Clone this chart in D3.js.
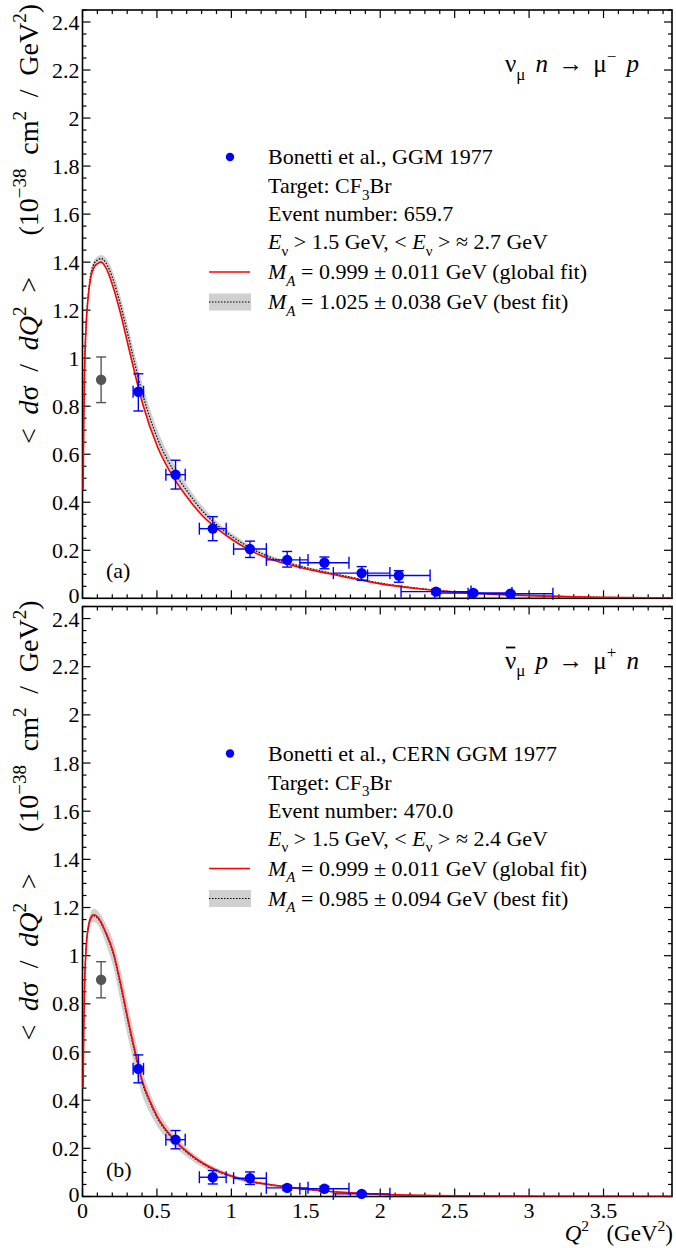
<!DOCTYPE html>
<html><head><meta charset="utf-8">
<script src="https://cdn.jsdelivr.net/npm/d3@7"></script>
<style>
body{margin:0;background:#fff}
svg{display:block}
text{fill:#000;white-space:pre}
</style>
</head><body>
<svg id="c" width="676" height="1248"></svg>
<script>
// ---------- data ----------
const binQ    = [0.125, 0.375, 0.625, 0.875, 1.125, 1.375, 1.625, 1.875, 2.125, 2.375, 2.625, 2.875];
const binQErr = [0, 0.035, 0.065, 0.09, 0.11, 0.14, 0.165, 0.19, 0.21, 0.235, 0.26, 0.285];

const nuVal   = [0.91, 0.86, 0.515, 0.29, 0.205, 0.16, 0.148, 0.105, 0.095, 0.028, 0.022, 0.019];
const nuErrLo = [0.095, 0.08, 0.06, 0.05, 0.035, 0.03, 0.025, 0.03, 0.028, 0.01, 0.008, 0.006];
const nuErrHi = [0.095, 0.075, 0.06, 0.05, 0.033, 0.035, 0.024, 0.027, 0.02, 0.01, 0.008, 0.006];

const nubarVal = [0.90, 0.53, 0.236, 0.08, 0.076, 0.036, 0.032, 0.011];
const nubarErr = [0.075, 0.058, 0.038, 0.028, 0.026, 0.01, 0.01, 0.006];

const curveQTop = [0, 0.004, 0.01, 0.02, 0.035, 0.05, 0.075, 0.1, 0.12, 0.15, 0.2, 0.25, 0.3, 0.35, 0.4, 0.5, 0.6, 0.7, 0.8, 0.9, 1.0, 1.1, 1.25, 1.375, 1.5, 1.625, 1.75, 2.0, 2.25, 2.5, 2.75, 3.0, 3.25, 3.5, 3.96];
const globalTop = [0.45, 0.72, 0.95, 1.13, 1.26, 1.33, 1.38, 1.395, 1.40, 1.38, 1.30, 1.19, 1.06, 0.93, 0.81, 0.63, 0.51, 0.42, 0.345, 0.29, 0.245, 0.207, 0.165, 0.142, 0.122, 0.106, 0.09, 0.06, 0.04, 0.026, 0.017, 0.011, 0.007, 0.004, 0.0015];
const bestTop   = [0.45, 0.72, 0.96, 1.14, 1.27, 1.345, 1.395, 1.41, 1.415, 1.40, 1.33, 1.225, 1.10, 0.97, 0.85, 0.665, 0.54, 0.445, 0.365, 0.305, 0.258, 0.218, 0.173, 0.148, 0.127, 0.11, 0.094, 0.063, 0.042, 0.027, 0.018, 0.0115, 0.0073, 0.0042, 0.0016];
const bandHiTop = [0.45, 0.72, 0.97, 1.15, 1.28, 1.36, 1.41, 1.425, 1.43, 1.42, 1.36, 1.26, 1.14, 1.01, 0.89, 0.70, 0.57, 0.47, 0.385, 0.32, 0.271, 0.229, 0.181, 0.154, 0.132, 0.114, 0.098, 0.066, 0.044, 0.028, 0.019, 0.012, 0.0076, 0.0044, 0.0017];
const bandLoTop = [0.45, 0.71, 0.95, 1.13, 1.255, 1.33, 1.38, 1.395, 1.40, 1.385, 1.305, 1.195, 1.065, 0.935, 0.815, 0.635, 0.515, 0.425, 0.348, 0.292, 0.247, 0.208, 0.166, 0.143, 0.123, 0.107, 0.091, 0.061, 0.041, 0.026, 0.017, 0.011, 0.007, 0.004, 0.0015];

const curveQBot = [0, 0.004, 0.01, 0.02, 0.035, 0.05, 0.07, 0.09, 0.12, 0.15, 0.2, 0.25, 0.3, 0.35, 0.4, 0.45, 0.5, 0.6, 0.7, 0.8, 0.9, 1.0, 1.1, 1.25, 1.375, 1.5, 1.75, 2.0, 2.25, 2.5, 3.0, 3.5, 3.96];
const globalBot = [0.45, 0.68, 0.88, 1.03, 1.12, 1.155, 1.17, 1.165, 1.14, 1.10, 1.02, 0.89, 0.74, 0.6, 0.475, 0.395, 0.33, 0.245, 0.185, 0.14, 0.108, 0.085, 0.066, 0.05, 0.039, 0.03, 0.017, 0.009, 0.005, 0.003, 0.0012, 0.0005, 0.0002];
const bestBot   = [0.45, 0.68, 0.875, 1.025, 1.115, 1.15, 1.165, 1.16, 1.135, 1.095, 1.012, 0.88, 0.73, 0.59, 0.467, 0.388, 0.324, 0.24, 0.181, 0.137, 0.105, 0.083, 0.064, 0.049, 0.038, 0.029, 0.0165, 0.0087, 0.0048, 0.0029, 0.0012, 0.0005, 0.0002];
const bandHiBot = [0.45, 0.69, 0.9, 1.05, 1.14, 1.178, 1.195, 1.19, 1.17, 1.135, 1.065, 0.945, 0.80, 0.655, 0.52, 0.43, 0.36, 0.267, 0.2, 0.152, 0.117, 0.092, 0.071, 0.054, 0.042, 0.032, 0.018, 0.0095, 0.0053, 0.0032, 0.0013, 0.0005, 0.0002];
const bandLoBot = [0.45, 0.67, 0.86, 1.0, 1.09, 1.125, 1.14, 1.135, 1.105, 1.055, 0.96, 0.815, 0.665, 0.53, 0.415, 0.345, 0.29, 0.215, 0.163, 0.123, 0.094, 0.075, 0.058, 0.044, 0.034, 0.026, 0.015, 0.008, 0.0044, 0.0026, 0.001, 0.0004, 0.0002];

const xTickLabels = ["0", "0.5", "1", "1.5", "2", "2.5", "3", "3.5"];
const yTickLabels = ["0", "0.2", "0.4", "0.6", "0.8", "1", "1.2", "1.4", "1.6", "1.8", "2", "2.2", "2.4"];

const legendTop = {
  exp: "Bonetti et al., GGM 1977", events: "659.7", mean: "2.7",
  best: "1.025 ± 0.038", reactionNu: true, tag: "(a)"
};
const legendBot = {
  exp: "Bonetti et al., CERN GGM 1977", events: "470.0", mean: "2.4",
  best: "0.985 ± 0.094", reactionNu: false, tag: "(b)"
};

// ---------- font pick ----------
function pickFont(list) {
  const c = document.createElement("canvas").getContext("2d");
  const probe = "Bonetti GGM 1977 mwil";
  for (const f of list) {
    let differs = false;
    for (const base of ["monospace", "sans-serif"]) {
      c.font = `20px ${base}`; const w0 = c.measureText(probe).width;
      c.font = `20px "${f}", ${base}`; const w1 = c.measureText(probe).width;
      if (Math.abs(w1 - w0) > 0.5) differs = true;
    }
    if (differs) return f;
  }
  return "serif";
}
const FONT = pickFont(["Liberation Serif", "Tinos", "Times New Roman", "Nimbus Roman", "DejaVu Serif", "Noto Serif"]);

// ---------- layout ----------
const svg = d3.select("#c").attr("font-family", `"${FONT}", serif`);
const X0 = 82.5, X1 = 672;
const x = d3.scaleLinear().domain([0, 3.96]).range([X0, X1]);
const panels = [
  {top: 10, bottom: 598.3, showX: false, pts: nuVal, lo: nuErrLo, hi: nuErrHi,
   cq: curveQTop, g: globalTop, b: bestTop, bh: bandHiTop, bl: bandLoTop, leg: legendTop},
  {top: 606.5, bottom: 1196.5, showX: true, pts: nubarVal, lo: nubarErr, hi: nubarErr,
   cq: curveQBot, g: globalBot, b: bestBot, bh: bandHiBot, bl: bandLoBot, leg: legendBot}
];

function rich(sel, parts, size) {
  let shift = 0;
  parts.forEach(p => {
    const s = p[0], f = p[1] || "";
    const ts = sel.append("tspan").text(s);
    let target = 0;
    if (f.includes("b")) target = size * 0.3;
    if (f.includes("p")) target = -size * 0.42;
    if (target - shift !== 0) ts.attr("dy", target - shift);
    shift = target;
    if (f.includes("b") || f.includes("p")) ts.attr("font-size", size * 0.68);
    if (f.includes("i")) ts.attr("font-style", "italic");
  });
  return sel;
}
function fitWords(sel, target) {
  const n = sel.node();
  const len = n.getComputedTextLength();
  const spaces = (n.textContent.match(/ /g) || []).length;
  if (spaces > 0 && target > len) sel.attr("word-spacing", ((target - len) / spaces).toFixed(2));
  return sel;
}

const BLUE = "#0000ff", GREY = "#555555";

panels.forEach((P, pi) => {
  const y = d3.scaleLinear().domain([0, 2.45]).range([P.bottom, P.top]);
  const g = svg.append("g");
  const clipId = "clip" + pi;
  svg.append("clipPath").attr("id", clipId).append("rect")
    .attr("x", X0 - 1).attr("y", P.top).attr("width", X1 - X0 + 1).attr("height", P.bottom - P.top);

  g.append("rect").attr("x", X0).attr("y", P.top).attr("width", X1 - X0).attr("height", P.bottom - P.top)
    .attr("fill", "none").attr("stroke", "#000").attr("stroke-width", 1.6);

  const tk = g.append("g").attr("stroke", "#000").attr("stroke-width", 1.2);
  d3.range(0, 40).forEach(k => {
    const q = k / 10; if (q > 3.96) return;
    const L = (k % 5 === 0) ? 8 : 4;
    const xx = x(q);
    tk.append("line").attr("x1", xx).attr("x2", xx).attr("y1", P.bottom).attr("y2", P.bottom - L);
    tk.append("line").attr("x1", xx).attr("x2", xx).attr("y1", P.top).attr("y2", P.top + L);
  });
  d3.range(0, 50).forEach(k => {
    const v = k * 0.05; if (v > 2.45) return;
    const L = (k % 4 === 0) ? 8 : 4;
    const yy = y(v);
    tk.append("line").attr("x1", X0).attr("x2", X0 + L).attr("y1", yy).attr("y2", yy);
    tk.append("line").attr("x1", X1).attr("x2", X1 - L).attr("y1", yy).attr("y2", yy);
  });

  const band = P.cq.map((q, i) => ({q, lo: P.bl[i], hi: P.bh[i]}));
  g.append("path").datum(band).attr("clip-path", `url(#${clipId})`)
    .attr("fill", "#d0d0d0")
    .attr("d", d3.area().x(d => x(d.q) + 0.6).y0(d => y(d.lo)).y1(d => y(d.hi)).curve(d3.curveMonotoneX));
  const best = P.cq.map((q, i) => ({q, v: P.b[i]}));
  g.append("path").datum(best).attr("clip-path", `url(#${clipId})`)
    .attr("fill", "none").attr("stroke", "#000").attr("stroke-width", 1.2).attr("stroke-dasharray", "1.5,1.5")
    .attr("d", d3.line().x(d => x(d.q) + 0.6).y(d => y(d.v)).curve(d3.curveMonotoneX));
  const glob = P.cq.map((q, i) => ({q, v: P.g[i]}));
  g.append("path").datum(glob).attr("clip-path", `url(#${clipId})`)
    .attr("fill", "none").attr("stroke", "#ff0000").attr("stroke-width", 1.6)
    .attr("d", d3.line().x(d => x(d.q) + 0.6).y(d => y(d.v)).curve(d3.curveMonotoneX));

  const pts = P.pts.map((v, i) => ({q: binQ[i], xe: binQErr[i], v, lo: P.lo[i], hi: P.hi[i], first: i === 0}));
  const pg = g.append("g");
  pts.forEach(d => {
    const c = d.first ? GREY : BLUE;
    const cx = x(d.q), cy = y(d.v);
    const s = pg.append("g").attr("stroke", c).attr("stroke-width", 1.4).attr("fill", "none");
    s.append("line").attr("x1", cx).attr("x2", cx).attr("y1", y(d.v - d.lo)).attr("y2", y(d.v + d.hi));
    s.append("line").attr("x1", cx - 5).attr("x2", cx + 5).attr("y1", y(d.v - d.lo)).attr("y2", y(d.v - d.lo));
    s.append("line").attr("x1", cx - 5).attr("x2", cx + 5).attr("y1", y(d.v + d.hi)).attr("y2", y(d.v + d.hi));
    if (d.xe > 0) {
      s.append("line").attr("x1", x(d.q - d.xe)).attr("x2", x(d.q + d.xe)).attr("y1", cy).attr("y2", cy);
      s.append("line").attr("x1", x(d.q - d.xe)).attr("x2", x(d.q - d.xe)).attr("y1", cy - 6).attr("y2", cy + 6);
      s.append("line").attr("x1", x(d.q + d.xe)).attr("x2", x(d.q + d.xe)).attr("y1", cy - 6).attr("y2", cy + 6);
    }
    pg.append("circle").attr("cx", cx).attr("cy", cy).attr("r", 5.2).attr("fill", c);
  });

  yTickLabels.forEach((t, i) => {
    const off = i === 0 ? 5 : (i === yTickLabels.length - 1 ? 8 : 7.5);
    g.append("text").attr("x", X0 - 3).attr("y", y(i * 0.2) + off)
      .attr("text-anchor", "end").attr("font-size", 22).text(t);
  });
  if (P.showX) {
    xTickLabels.forEach((t, i) => {
      g.append("text").attr("x", x(i * 0.5)).attr("y", P.bottom + 21)
        .attr("text-anchor", "middle").attr("font-size", 22).text(t);
    });
    const xt = g.append("text").attr("x", X1 + 1).attr("y", P.bottom + 44).attr("text-anchor", "end").attr("font-size", 23);
    rich(xt, [["Q", "i"], ["2", "p"], ["   (GeV"], ["2", "p"], [")"]], 23);
  }

  // y title
  const yt = g.append("text").attr("transform", `translate(38,${P.top - 6}) rotate(-90)`)
    .attr("text-anchor", "end").attr("font-size", 28);
  rich(yt, [["< "], ["d", "i"], ["σ / "], ["dQ", "i"], ["2", "p"], [" >   (10"], ["−38", "p"], [" cm"], ["2", "p"], [" / GeV"], ["2", "p"], [")"]], 28);
  fitWords(yt, 440);

  // reaction label
  const L = P.leg;
  const rt = g.append("text").attr("x", 505).attr("y", P.top + 62).attr("font-size", 25);
  if (L.reactionNu) {
    rich(rt, [["ν"], ["μ", "b"], [" "], ["n", "i"], [" → μ"], ["−", "p"], [" "], ["p", "i"]], 25);
  } else {
    rich(rt, [["ν"], ["μ", "b"], [" "], ["p", "i"], [" → μ"], ["+", "p"], [" "], ["n", "i"]], 25);
  }
  fitWords(rt, 134);
  if (!L.reactionNu) {
    const ext = rt.node().getExtentOfChar(0);
    g.append("line").attr("x1", ext.x + 1).attr("x2", ext.x + ext.width - 1)
      .attr("y1", P.top + 41).attr("y2", P.top + 41).attr("stroke", "#000").attr("stroke-width", 1.8);
  }

  // legend
  const ly = [147, 176, 204, 232, 262, 292].map(v => P.top + v);
  const FS = 22, tx = 268;
  g.append("circle").attr("cx", 230).attr("cy", ly[0]).attr("r", 4.2).attr("fill", BLUE);
  g.append("text").attr("x", tx).attr("y", ly[0] + 7).attr("font-size", FS).text(L.exp);
  rich(g.append("text").attr("x", tx).attr("y", ly[1] + 7).attr("font-size", FS),
    [["Target: CF"], ["3", "b"], ["Br"]], FS);
  g.append("text").attr("x", tx).attr("y", ly[2] + 7).attr("font-size", FS).text("Event number: " + L.events);
  rich(g.append("text").attr("x", tx).attr("y", ly[3] + 7).attr("font-size", FS),
    [["E", "i"], ["ν", "b"], [" > 1.5 GeV, < "], ["E", "i"], ["ν", "b"], [" > ≈ " + L.mean + " GeV"]], FS);
  g.append("line").attr("x1", 209).attr("x2", 250).attr("y1", ly[4]).attr("y2", ly[4])
    .attr("stroke", "#ff0000").attr("stroke-width", 1.4);
  rich(g.append("text").attr("x", tx).attr("y", ly[4] + 7).attr("font-size", FS),
    [["M", "i"], ["A", "ib"], [" = 0.999 ± 0.011 GeV (global fit)"]], FS);
  g.append("rect").attr("x", 209).attr("y", ly[5] - 8.5).attr("width", 42).attr("height", 17).attr("fill", "#d0d0d0");
  g.append("line").attr("x1", 209).attr("x2", 251).attr("y1", ly[5]).attr("y2", ly[5])
    .attr("stroke", "#000").attr("stroke-width", 1.2).attr("stroke-dasharray", "1.5,1.5");
  rich(g.append("text").attr("x", tx).attr("y", ly[5] + 7).attr("font-size", FS),
    [["M", "i"], ["A", "ib"], [" = " + L.best + " GeV (best fit)"]], FS);

  g.append("text").attr("x", 106).attr("y", P.bottom - 20).attr("font-size", 22).text(L.tag);
});
</script>
</body></html>
